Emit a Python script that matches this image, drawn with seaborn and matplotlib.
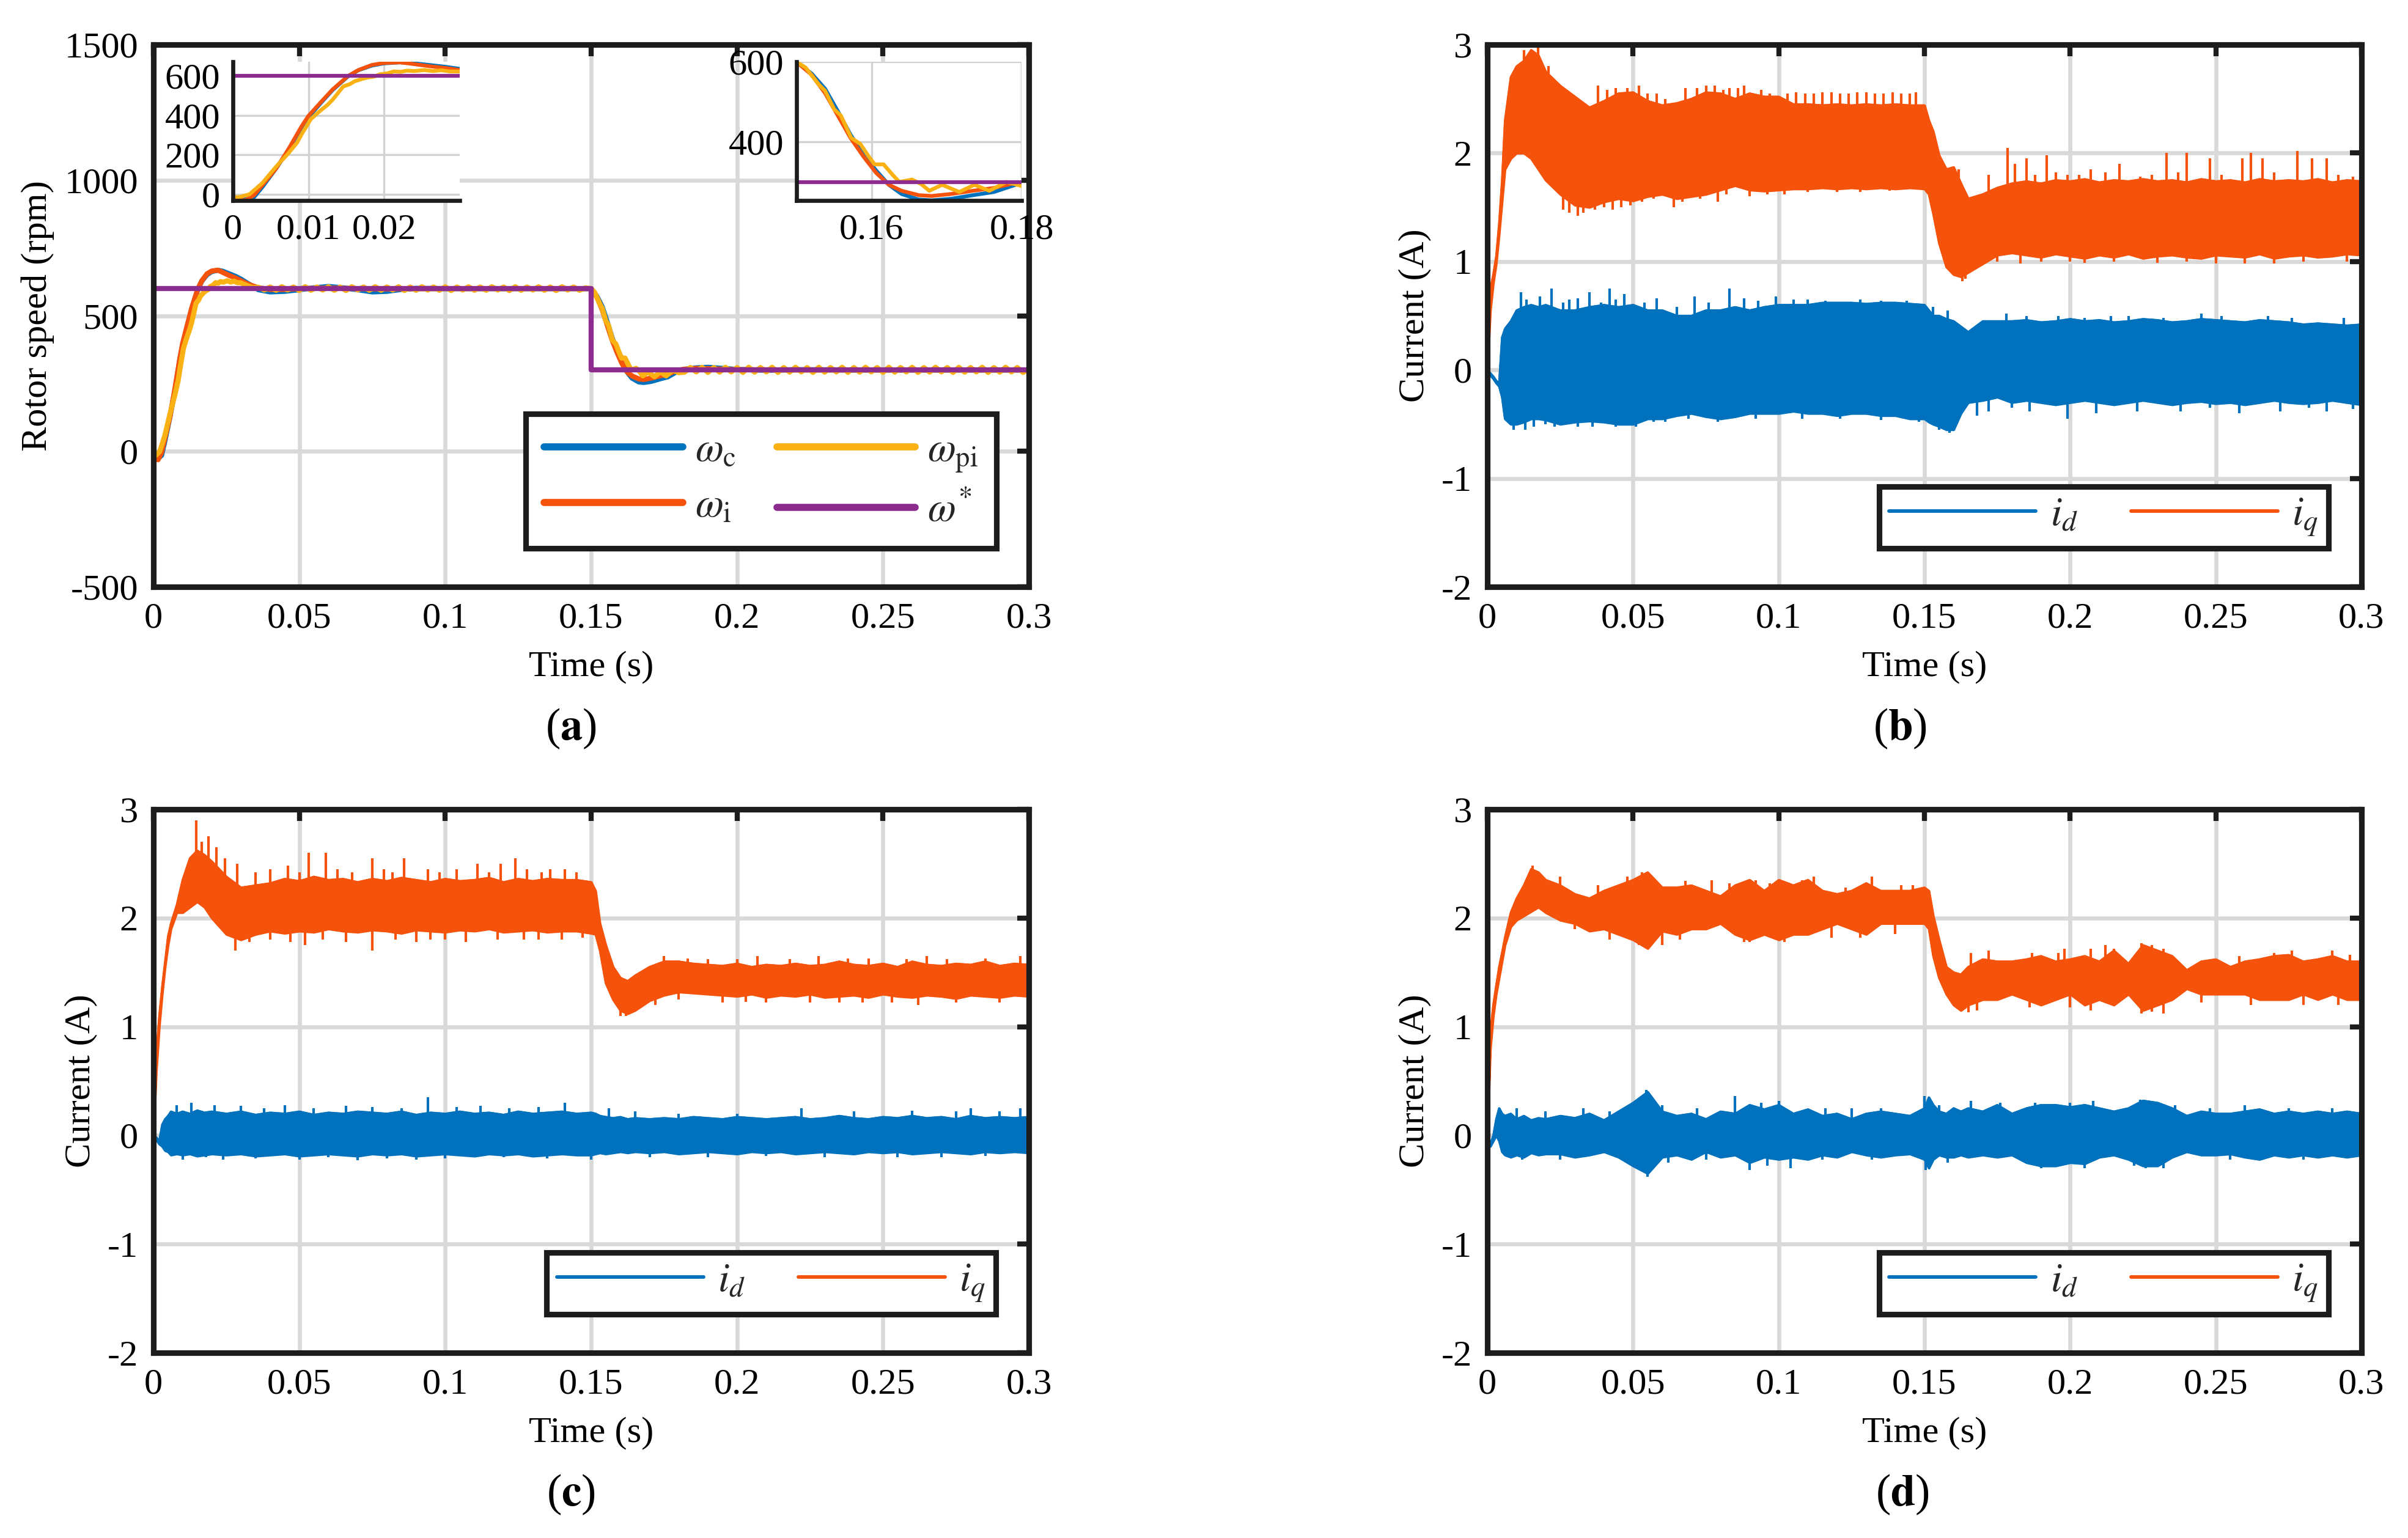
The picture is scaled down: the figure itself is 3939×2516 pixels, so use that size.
import numpy as np
import matplotlib
matplotlib.use("Agg")
import matplotlib.pyplot as plt
from matplotlib.lines import Line2D
import seaborn as sns

sns.set_theme(style="white")
plt.rcParams["font.family"] = ["Liberation Serif", "DejaVu Serif"]
plt.rcParams["mathtext.fontset"] = "stix"
plt.rcParams["axes.unicode_minus"] = False

C_BLUE = "#0072BD"
C_ORANGE = "#F5520C"
C_YELLOW = "#F9B113"
C_PURPLE = "#8B2C8E"
C_AX = "#1c1c1c"
C_GRID = "#d9d9d9"
FS = 14.5

# ---------------- (a) rotor speed data (rpm) ----------------
wc_t = [0, 0.0008, 0.0016, 0.0028, 0.0039, 0.0057, 0.0074, 0.0091, 0.0100, 0.0117, 0.0132,
        0.0152, 0.0166, 0.0184, 0.0200, 0.0221, 0.0238, 0.0259, 0.0282, 0.0300, 0.033, 0.036,
        0.040, 0.045, 0.050, 0.055, 0.060, 0.065, 0.070, 0.075, 0.080, 0.085, 0.090, 0.10,
        0.12, 0.14, 0.150, 0.152, 0.1538, 0.1555, 0.1572, 0.1589, 0.1606, 0.1623, 0.1640,
        0.1663, 0.1680, 0.1706, 0.1735, 0.1763, 0.1792, 0.182, 0.186, 0.19, 0.195, 0.2,
        0.21, 0.22, 0.24, 0.26, 0.28, 0.3]
wc_v = [-20, -25, -26, -15, 36, 129, 225, 340, 390, 465, 528, 596, 628, 652, 663, 668, 664,
        655, 645, 635, 615, 596, 588, 590, 596, 603, 608, 603, 596, 588, 590, 597, 601, 600,
        600, 600, 600, 571, 533, 477, 418, 369, 329, 293, 270, 256, 254, 258, 267, 275, 293,
        302, 308, 310, 306, 302, 299, 301, 300, 300, 300, 300]

wi_t = [0, 0.0008, 0.0016, 0.0028, 0.0039, 0.0057, 0.0074, 0.0091, 0.0100, 0.0117, 0.0132,
        0.0152, 0.0166, 0.0184, 0.0200, 0.0221, 0.0238, 0.0259, 0.0282, 0.0300, 0.033, 0.036,
        0.040, 0.045, 0.050, 0.06, 0.07, 0.08, 0.1, 0.12, 0.14, 0.150, 0.152, 0.1538, 0.1555,
        0.1572, 0.1589, 0.1606, 0.1623, 0.1640, 0.1663, 0.1680, 0.1706, 0.1735, 0.1763,
        0.1792, 0.182, 0.186, 0.19, 0.2, 0.22, 0.26, 0.3]
wi_v = [-20, -26, -31, -5, 46, 129, 232, 345, 397, 469, 531, 598, 629, 655, 665, 668, 660,
        649, 639, 629, 614, 603, 597, 597, 600, 602, 600, 599, 600, 600, 600, 600, 568, 522,
        466, 410, 364, 323, 293, 278, 267, 265, 270, 278, 285, 298, 303, 306, 305, 301, 300,
        300, 300]

wpi_early_t = [0, 0.0008, 0.0022, 0.0039, 0.0057, 0.0074, 0.0085, 0.0091, 0.0103, 0.0114,
               0.0125, 0.0132, 0.0146, 0.0155, 0.0161, 0.0170, 0.0178, 0.0187, 0.0195, 0.0204,
               0.0213, 0.0222, 0.0230, 0.0240, 0.0253, 0.0265, 0.0276, 0.0287, 0.0298, 0.032,
               0.034]
wpi_early_v = [-15, -15, 0, 57, 139, 210, 262, 304, 380, 418, 452, 479, 546, 558, 572, 583,
               591, 596, 608, 612, 622, 620, 626, 624, 629, 624, 628, 622, 622, 612, 604]
# ripple 0.036 ... 0.148 s (2 ms samples)
wpi_mid_v = [605, 595, 606, 594, 607, 595, 606, 593, 607, 594,
             606, 595, 607, 594, 606, 593, 607, 595, 606, 594,
             607, 594, 606, 595, 607, 593, 606, 594, 607, 595,
             606, 594, 607, 593, 606, 595, 607, 594, 606, 594,
             607, 595, 606, 593, 607, 594, 606, 595, 607, 594,
             606, 593, 607, 595, 606, 594, 603]
wpi_drop_t = [0.150, 0.1512, 0.1530, 0.1538, 0.1550, 0.1559, 0.1573, 0.1585, 0.1596, 0.1604,
              0.1616, 0.1628, 0.1637, 0.1654, 0.1666, 0.1677, 0.1694, 0.1717, 0.1737, 0.1757,
              0.1780, 0.1800]
wpi_drop_v = [600, 586, 543, 528, 482, 466, 410, 395, 364, 344, 344, 318, 300, 306, 295, 278,
              293, 275, 293, 278, 300, 290]
# ripple 0.182 ... 0.300 s (2 ms samples)
wpi_tail_v = [292, 309, 293, 310, 291, 309, 292, 310, 293, 309,
              291, 310, 292, 309, 293, 310, 291, 309, 292, 310,
              293, 309, 291, 310, 292, 309, 293, 310, 291, 309,
              292, 310, 293, 309, 291, 310, 292, 309, 293, 310,
              291, 309, 292, 310, 293, 309, 291, 310, 292, 309,
              293, 310, 291, 309, 292, 310, 293, 309, 291, 304]

wref_t = [0, 0.15, 0.15, 0.3]
wref_v = [600, 600, 300, 300]

# ---------------- current envelopes (A), shared time grid ----------------
t_env = [0, 0.001, 0.002, 0.003, 0.004, 0.005, 0.006, 0.008, 0.010, 0.0125, 0.015, 0.0175, 0.020,
         0.025, 0.030, 0.035, 0.040, 0.045, 0.050, 0.055, 0.060, 0.065, 0.070, 0.075, 0.080,
         0.085, 0.090, 0.095, 0.100, 0.105, 0.110, 0.115, 0.120, 0.125, 0.130, 0.135, 0.140, 0.145,
         0.150, 0.1515, 0.153, 0.155, 0.1575, 0.160, 0.1625, 0.165,
         0.170, 0.175, 0.180, 0.185, 0.190, 0.195, 0.200, 0.205, 0.210, 0.215, 0.220, 0.225,
         0.230, 0.235, 0.240, 0.245, 0.250, 0.255, 0.260, 0.265, 0.270, 0.275, 0.280, 0.285,
         0.290, 0.295, 0.300]

# (b)
b_iq_hi = [0, 0.75, 0.88, 1.05, 1.35, 1.75, 2.30, 2.70, 2.80, 2.85, 2.95, 2.90, 2.75,
           2.62, 2.52, 2.42, 2.48, 2.55, 2.56, 2.48, 2.44, 2.46, 2.50, 2.56, 2.55, 2.50, 2.55,
           2.52, 2.52, 2.45, 2.45, 2.44, 2.45, 2.44, 2.45, 2.44, 2.45, 2.44,
           2.44, 2.30, 2.20, 1.98, 1.85, 1.87, 1.72, 1.58,
           1.62, 1.68, 1.72, 1.74, 1.72, 1.75, 1.74, 1.76, 1.73, 1.75, 1.74, 1.76, 1.74, 1.75,
           1.73, 1.76, 1.74, 1.75, 1.73, 1.76, 1.74, 1.75, 1.74, 1.76, 1.73, 1.75, 1.74]
b_iq_lo = [0, 0.55, 0.80, 0.98, 1.25, 1.55, 1.85, 1.95, 2.00, 2.00, 1.95, 1.85, 1.75,
           1.62, 1.52, 1.50, 1.55, 1.58, 1.56, 1.60, 1.62, 1.58, 1.60, 1.62, 1.66, 1.70, 1.66,
           1.65, 1.66, 1.67, 1.67, 1.68, 1.67, 1.68, 1.67, 1.68, 1.67, 1.68,
           1.67, 1.62, 1.44, 1.17, 0.95, 0.88, 0.86, 0.90,
           0.98, 1.06, 1.08, 1.06, 1.04, 1.07, 1.05, 1.03, 1.06, 1.04, 1.07, 1.03, 1.05, 1.06,
           1.04, 1.03, 1.06, 1.05, 1.04, 1.07, 1.03, 1.05, 1.06, 1.04, 1.05, 1.07, 1.06]
b_id_hi = [0, -0.03, -0.06, -0.10, -0.12, 0.30, 0.38, 0.45, 0.55, 0.58, 0.60, 0.58, 0.60,
           0.55, 0.55, 0.58, 0.60, 0.58, 0.60, 0.55, 0.55, 0.50, 0.50, 0.55, 0.55, 0.58, 0.55,
           0.58, 0.60, 0.60, 0.60, 0.62, 0.62, 0.62, 0.61, 0.62, 0.62, 0.61,
           0.60, 0.55, 0.50, 0.50, 0.47, 0.45, 0.40, 0.35,
           0.45, 0.45, 0.45, 0.46, 0.44, 0.45, 0.47, 0.45, 0.46, 0.44, 0.45, 0.47, 0.46, 0.44,
           0.45, 0.47, 0.46, 0.45, 0.44, 0.46, 0.45, 0.44, 0.42, 0.43, 0.42, 0.41, 0.42]
b_id_lo = [0, -0.05, -0.08, -0.12, -0.15, -0.25, -0.45, -0.50, -0.50, -0.48, -0.45, -0.45, -0.46,
           -0.50, -0.48, -0.47, -0.48, -0.50, -0.50, -0.45, -0.45, -0.42, -0.40, -0.43, -0.45,
           -0.43, -0.40, -0.40, -0.40, -0.38, -0.40, -0.40, -0.42, -0.40, -0.40, -0.42, -0.42, -0.45,
           -0.45, -0.48, -0.50, -0.52, -0.55, -0.55, -0.40, -0.30,
           -0.28, -0.25, -0.30, -0.28, -0.30, -0.32, -0.30, -0.28, -0.30, -0.32, -0.30, -0.28,
           -0.30, -0.32, -0.30, -0.29, -0.31, -0.30, -0.32, -0.30, -0.28, -0.30, -0.31, -0.30,
           -0.28, -0.30, -0.32]
# spikes: (time, from, to)
b_iq_spikes = [(0.0125, 2.4, 2.95), (0.0165, 2.4, 2.85), (0.0174, 2.4, 3.0), (0.021, 2.3, 2.8),
               (0.024, 2.2, 2.6), (0.027, 2.2, 2.55), (0.030, 2.2, 2.52), (0.034, 2.2, 2.45),
               (0.038, 2.2, 2.62), (0.041, 2.2, 2.58), (0.044, 2.2, 2.6), (0.048, 2.2, 2.6),
               (0.052, 2.2, 2.62), (0.055, 2.2, 2.55), (0.058, 2.2, 2.55), (0.061, 2.2, 2.5),
               (0.068, 2.2, 2.6), (0.072, 2.2, 2.6), (0.075, 2.2, 2.62), (0.078, 2.2, 2.62),
               (0.081, 2.2, 2.58), (0.083, 2.2, 2.6), (0.086, 2.2, 2.6), (0.088, 2.2, 2.62),
               (0.091, 2.2, 2.55), (0.094, 2.2, 2.58), (0.097, 2.2, 2.55), (0.103, 2.2, 2.55),
               (0.106, 2.2, 2.56), (0.109, 2.2, 2.55), (0.112, 2.2, 2.55), (0.115, 2.2, 2.56),
               (0.118, 2.2, 2.56), (0.121, 2.2, 2.55), (0.124, 2.2, 2.55), (0.127, 2.2, 2.56),
               (0.130, 2.2, 2.56), (0.133, 2.2, 2.55), (0.136, 2.2, 2.55), (0.139, 2.2, 2.56),
               (0.142, 2.2, 2.55), (0.145, 2.2, 2.55), (0.147, 2.2, 2.56),
               (0.1617, 1.4, 1.85), (0.172, 1.4, 1.8), (0.1786, 1.4, 2.05), (0.181, 1.4, 1.9),
               (0.185, 1.4, 1.95), (0.188, 1.4, 1.8), (0.192, 1.4, 1.98), (0.195, 1.4, 1.82),
               (0.199, 1.4, 1.8), (0.203, 1.4, 1.8), (0.207, 1.4, 1.85), (0.212, 1.4, 1.82),
               (0.217, 1.4, 1.9), (0.224, 1.4, 1.78), (0.228, 1.4, 1.8), (0.233, 1.4, 2.0),
               (0.237, 1.4, 1.82), (0.240, 1.4, 2.0), (0.248, 1.4, 1.95), (0.252, 1.4, 1.8),
               (0.259, 1.4, 1.95), (0.262, 1.4, 2.0), (0.266, 1.4, 1.95), (0.270, 1.4, 1.82),
               (0.278, 1.4, 2.02), (0.283, 1.4, 1.95), (0.288, 1.4, 1.95), (0.292, 1.4, 1.8),
               (0.297, 1.4, 1.78),
               (0.026, 1.48, 1.9), (0.028, 1.45, 1.9), (0.031, 1.42, 1.9), (0.033, 1.45, 1.9),
               (0.037, 1.48, 1.9), (0.040, 1.5, 1.9), (0.043, 1.48, 1.9), (0.046, 1.5, 1.9),
               (0.049, 1.52, 1.9), (0.053, 1.55, 1.9), (0.057, 1.58, 1.9), (0.064, 1.5, 1.9),
               (0.067, 1.55, 1.9), (0.073, 1.58, 1.9), (0.079, 1.55, 1.9), (0.082, 1.62, 1.9),
               (0.090, 1.6, 1.9), (0.096, 1.62, 1.9), (0.102, 1.62, 1.9), (0.110, 1.64, 1.9),
               (0.120, 1.64, 1.9), (0.128, 1.64, 1.9), (0.138, 1.65, 1.9),
               (0.163, 0.82, 1.2), (0.164, 0.84, 1.2), (0.175, 1.0, 1.3), (0.183, 0.98, 1.3),
               (0.190, 1.0, 1.3), (0.200, 1.0, 1.3), (0.205, 0.99, 1.3), (0.215, 1.0, 1.3),
               (0.230, 0.99, 1.3), (0.240, 1.0, 1.3), (0.250, 0.98, 1.3), (0.260, 0.98, 1.3),
               (0.270, 0.98, 1.3), (0.280, 1.0, 1.3), (0.295, 1.0, 1.3)]
b_id_spikes = [(0.0115, 0, 0.72), (0.0135, 0, 0.65), (0.018, 0, 0.68), (0.022, 0, 0.75),
               (0.026, 0, 0.62), (0.028, 0, 0.65), (0.031, 0, 0.66), (0.035, 0, 0.72),
               (0.039, 0, 0.62), (0.042, 0, 0.75), (0.044, 0, 0.65), (0.047, 0, 0.70),
               (0.054, 0, 0.62), (0.058, 0, 0.66), (0.065, 0, 0.58), (0.071, 0, 0.68),
               (0.076, 0, 0.62), (0.083, 0, 0.75), (0.088, 0, 0.66), (0.093, 0, 0.64),
               (0.099, 0, 0.68), (0.105, 0, 0.65), (0.110, 0, 0.65), (0.116, 0, 0.64),
               (0.128, 0, 0.65), (0.135, 0, 0.64), (0.144, 0, 0.64), (0.153, 0, 0.58),
               (0.158, 0, 0.55), (0.178, 0, 0.52), (0.185, 0, 0.50), (0.196, 0, 0.50),
               (0.205, 0, 0.48), (0.214, 0, 0.50), (0.220, 0, 0.50), (0.232, 0, 0.48),
               (0.245, 0, 0.52), (0.252, 0, 0.50), (0.268, 0, 0.50), (0.276, 0, 0.48),
               (0.294, 0, 0.48),
               (0.009, -0.55, 0), (0.013, -0.55, 0), (0.016, -0.52, 0), (0.020, -0.50, 0),
               (0.023, -0.52, 0), (0.031, -0.52, 0), (0.036, -0.52, 0), (0.044, -0.52, 0),
               (0.051, -0.52, 0), (0.057, -0.48, 0), (0.061, -0.48, 0), (0.069, -0.45, 0),
               (0.079, -0.48, 0), (0.092, -0.45, 0), (0.108, -0.45, 0), (0.121, -0.45, 0),
               (0.135, -0.46, 0), (0.148, -0.48, 0), (0.155, -0.55, 0), (0.1585, -0.58, 0),
               (0.168, -0.42, 0), (0.172, -0.38, 0), (0.180, -0.35, 0), (0.186, -0.38, 0),
               (0.199, -0.45, 0), (0.209, -0.40, 0), (0.223, -0.38, 0), (0.238, -0.38, 0),
               (0.248, -0.35, 0), (0.258, -0.40, 0), (0.272, -0.38, 0), (0.282, -0.35, 0),
               (0.288, -0.38, 0), (0.297, -0.36, 0)]

# (c)
c_iq_hi = [0, 0.75, 1.10, 1.37, 1.60, 1.83, 1.95, 2.12, 2.35, 2.55, 2.62, 2.58, 2.52,
           2.38, 2.28, 2.30, 2.32, 2.36, 2.34, 2.38, 2.35, 2.36, 2.33, 2.36, 2.34, 2.37, 2.35,
           2.33, 2.36, 2.34, 2.35, 2.37, 2.33, 2.36, 2.34, 2.36, 2.35, 2.35,
           2.33, 2.25, 1.95, 1.75, 1.55, 1.45, 1.42, 1.47,
           1.55, 1.60, 1.60, 1.58, 1.57, 1.56, 1.58, 1.55, 1.57, 1.56, 1.58, 1.56, 1.57, 1.60,
           1.57, 1.56, 1.58, 1.55, 1.60, 1.57, 1.56, 1.58, 1.57, 1.60, 1.56, 1.58, 1.57]
c_iq_lo = [0, 0.60, 1.00, 1.30, 1.55, 1.75, 1.90, 2.05, 2.05, 2.10, 2.15, 2.10, 2.00,
           1.85, 1.80, 1.85, 1.88, 1.86, 1.88, 1.87, 1.90, 1.88, 1.87, 1.89, 1.88, 1.86, 1.89,
           1.88, 1.87, 1.89, 1.88, 1.90, 1.87, 1.88, 1.89, 1.87, 1.88, 1.88,
           1.86, 1.85, 1.70, 1.40, 1.25, 1.15, 1.12, 1.15,
           1.24, 1.29, 1.32, 1.31, 1.30, 1.29, 1.28, 1.30, 1.27, 1.29, 1.28, 1.30, 1.27, 1.28,
           1.29, 1.27, 1.30, 1.28, 1.27, 1.29, 1.28, 1.26, 1.29, 1.28, 1.27, 1.29, 1.28]
c_id_hi = [0, -0.02, -0.05, 0.10, 0.15, 0.18, 0.22, 0.20, 0.22, 0.20, 0.23, 0.21, 0.22,
           0.20, 0.22, 0.19, 0.21, 0.20, 0.22, 0.19, 0.21, 0.20, 0.22, 0.21, 0.20, 0.22, 0.19,
           0.21, 0.20, 0.22, 0.20, 0.21, 0.19, 0.22, 0.20, 0.21, 0.22, 0.20,
           0.21, 0.20, 0.18, 0.17, 0.16, 0.17, 0.15, 0.16,
           0.15, 0.16, 0.15, 0.17, 0.16, 0.15, 0.17, 0.16, 0.15, 0.16, 0.17, 0.15, 0.16, 0.18,
           0.16, 0.15, 0.17, 0.16, 0.18, 0.16, 0.17, 0.15, 0.18, 0.16, 0.17, 0.16, 0.17]
c_id_lo = [0, -0.04, -0.08, -0.10, -0.14, -0.15, -0.18, -0.17, -0.18, -0.17, -0.19, -0.18, -0.17,
           -0.18, -0.17, -0.19, -0.18, -0.17, -0.19, -0.18, -0.17, -0.18, -0.19, -0.17, -0.18,
           -0.17, -0.19, -0.18, -0.17, -0.18, -0.19, -0.17, -0.18, -0.17, -0.19, -0.18, -0.17, -0.18,
           -0.18, -0.17, -0.16, -0.17, -0.16, -0.15, -0.16, -0.15,
           -0.16, -0.15, -0.17, -0.16, -0.15, -0.16, -0.17, -0.15, -0.16, -0.15, -0.17, -0.16,
           -0.15, -0.16, -0.17, -0.15, -0.16, -0.15, -0.17, -0.16, -0.15, -0.16, -0.17, -0.15,
           -0.16, -0.15, -0.16]
c_iq_spikes = [(0.0146, 2.3, 2.9), (0.0165, 2.3, 2.7), (0.0188, 2.3, 2.75), (0.0215, 2.2, 2.65),
               (0.0245, 2.1, 2.55), (0.0287, 2.0, 2.5), (0.035, 2.1, 2.42), (0.040, 2.1, 2.45),
               (0.046, 2.1, 2.48), (0.050, 2.1, 2.42), (0.0533, 2.1, 2.6), (0.059, 2.1, 2.6),
               (0.063, 2.1, 2.45), (0.068, 2.1, 2.42), (0.075, 2.1, 2.55), (0.079, 2.1, 2.45),
               (0.082, 2.1, 2.42), (0.086, 2.1, 2.55), (0.094, 2.1, 2.45), (0.098, 2.1, 2.42),
               (0.104, 2.1, 2.45), (0.111, 2.1, 2.5), (0.115, 2.1, 2.42), (0.119, 2.1, 2.5),
               (0.124, 2.1, 2.55), (0.128, 2.1, 2.45), (0.133, 2.1, 2.42), (0.136, 2.1, 2.45),
               (0.141, 2.1, 2.45), (0.145, 2.1, 2.42),
               (0.175, 1.4, 1.65), (0.183, 1.4, 1.63), (0.190, 1.4, 1.62), (0.200, 1.4, 1.62),
               (0.207, 1.4, 1.65), (0.218, 1.4, 1.62), (0.228, 1.4, 1.65), (0.238, 1.4, 1.63),
               (0.245, 1.4, 1.63), (0.258, 1.4, 1.62), (0.265, 1.4, 1.65), (0.272, 1.4, 1.62),
               (0.285, 1.4, 1.63), (0.297, 1.4, 1.65),
               (0.028, 1.7, 2.0), (0.033, 1.78, 2.0), (0.040, 1.8, 2.0), (0.047, 1.78, 2.0),
               (0.052, 1.75, 2.0), (0.058, 1.8, 2.0), (0.066, 1.78, 2.0), (0.075, 1.7, 2.0),
               (0.083, 1.8, 2.0), (0.090, 1.78, 2.0), (0.095, 1.8, 2.0), (0.100, 1.8, 2.0),
               (0.107, 1.78, 2.0), (0.118, 1.8, 2.0), (0.127, 1.8, 2.0), (0.132, 1.8, 2.0),
               (0.140, 1.8, 2.0), (0.147, 1.82, 2.0),
               (0.160, 1.1, 1.3), (0.162, 1.1, 1.3), (0.172, 1.2, 1.4), (0.180, 1.25, 1.4),
               (0.195, 1.22, 1.4), (0.203, 1.23, 1.4), (0.210, 1.22, 1.4), (0.225, 1.22, 1.4),
               (0.235, 1.22, 1.4), (0.243, 1.22, 1.4), (0.253, 1.22, 1.4), (0.262, 1.2, 1.4),
               (0.275, 1.22, 1.4), (0.290, 1.22, 1.4)]
c_id_spikes = [(0.008, 0, 0.28), (0.013, 0, 0.30), (0.021, 0, 0.28), (0.030, 0, 0.27),
               (0.038, 0, 0.25), (0.045, 0, 0.28), (0.055, 0, 0.25), (0.066, 0, 0.27),
               (0.075, 0, 0.26), (0.085, 0, 0.25), (0.094, 0, 0.35), (0.104, 0, 0.26),
               (0.112, 0, 0.27), (0.122, 0, 0.25), (0.132, 0, 0.26), (0.141, 0, 0.30),
               (0.156, 0, 0.25), (0.165, 0, 0.22), (0.180, 0, 0.20), (0.200, 0, 0.20),
               (0.222, 0, 0.25), (0.240, 0, 0.22), (0.260, 0, 0.23), (0.275, 0, 0.22),
               (0.280, 0, 0.25), (0.290, 0, 0.22), (0.297, 0, 0.25),
               (0.010, -0.22, 0), (0.018, -0.20, 0), (0.024, -0.22, 0), (0.035, -0.21, 0),
               (0.050, -0.22, 0), (0.060, -0.20, 0), (0.070, -0.23, 0), (0.080, -0.21, 0),
               (0.090, -0.22, 0), (0.100, -0.21, 0), (0.120, -0.20, 0), (0.135, -0.21, 0),
               (0.150, -0.22, 0), (0.170, -0.20, 0), (0.190, -0.20, 0), (0.210, -0.19, 0),
               (0.230, -0.20, 0), (0.255, -0.20, 0), (0.270, -0.20, 0), (0.285, -0.19, 0)]

# (d)
d_iq_hi = [0, 0.95, 1.20, 1.38, 1.55, 1.68, 1.82, 2.05, 2.18, 2.30, 2.45, 2.42, 2.35,
           2.30, 2.22, 2.18, 2.25, 2.30, 2.35, 2.42, 2.28, 2.28, 2.30, 2.25, 2.20, 2.30, 2.35,
           2.25, 2.35, 2.30, 2.35, 2.25, 2.22, 2.25, 2.32, 2.25, 2.25, 2.25,
           2.28, 2.25, 2.02, 1.80, 1.55, 1.50, 1.48, 1.55,
           1.62, 1.60, 1.60, 1.62, 1.65, 1.60, 1.62, 1.65, 1.60, 1.70, 1.58, 1.75, 1.70, 1.65,
           1.52, 1.60, 1.62, 1.55, 1.60, 1.62, 1.65, 1.66, 1.60, 1.62, 1.65, 1.60, 1.60]
d_iq_lo = [0, 0.80, 1.10, 1.30, 1.45, 1.60, 1.75, 1.92, 1.98, 2.02, 2.06, 2.10, 2.05,
           1.98, 1.95, 1.88, 1.90, 1.85, 1.80, 1.72, 1.88, 1.85, 1.90, 1.90, 1.95, 1.85, 1.80,
           1.85, 1.80, 1.85, 1.85, 1.90, 1.95, 1.90, 1.85, 1.95, 1.95, 1.95,
           1.95, 1.90, 1.65, 1.45, 1.30, 1.20, 1.15, 1.20,
           1.25, 1.25, 1.30, 1.25, 1.20, 1.25, 1.30, 1.20, 1.25, 1.20, 1.30, 1.15, 1.20, 1.25,
           1.35, 1.30, 1.30, 1.30, 1.30, 1.25, 1.25, 1.25, 1.30, 1.25, 1.30, 1.25, 1.25]
d_id_hi = [0, -0.08, 0.0, 0.15, 0.25, 0.20, 0.18, 0.20, 0.15, 0.18, 0.14, 0.16, 0.15,
           0.18, 0.16, 0.20, 0.14, 0.22, 0.30, 0.40, 0.22, 0.18, 0.20, 0.15, 0.22, 0.20, 0.28,
           0.24, 0.28, 0.20, 0.24, 0.18, 0.20, 0.15, 0.20, 0.22, 0.20, 0.18,
           0.25, 0.35, 0.28, 0.22, 0.20, 0.25, 0.22, 0.25,
           0.22, 0.28, 0.20, 0.25, 0.28, 0.28, 0.26, 0.28, 0.25, 0.22, 0.25, 0.32, 0.30, 0.25,
           0.18, 0.22, 0.20, 0.20, 0.22, 0.24, 0.20, 0.22, 0.20, 0.22, 0.20, 0.22, 0.20]
d_id_lo = [0, -0.10, -0.05, 0.0, -0.05, -0.15, -0.18, -0.20, -0.18, -0.20, -0.16, -0.18, -0.17,
           -0.17, -0.20, -0.18, -0.15, -0.20, -0.28, -0.35, -0.20, -0.18, -0.22, -0.15, -0.20,
           -0.18, -0.25, -0.20, -0.22, -0.20, -0.22, -0.18, -0.20, -0.15, -0.18, -0.20, -0.18, -0.17,
           -0.22, -0.30, -0.22, -0.18, -0.20, -0.20, -0.18, -0.20,
           -0.18, -0.20, -0.18, -0.25, -0.28, -0.28, -0.25, -0.26, -0.20, -0.18, -0.22, -0.28,
           -0.28, -0.20, -0.15, -0.18, -0.18, -0.17, -0.20, -0.22, -0.18, -0.20, -0.18, -0.20,
           -0.18, -0.20, -0.18]
d_iq_spikes = [(0.0155, 2.2, 2.48), (0.025, 2.0, 2.38), (0.038, 2.0, 2.3), (0.048, 2.0, 2.38),
               (0.053, 2.0, 2.42), (0.054, 2.0, 2.40), (0.068, 2.0, 2.34), (0.077, 2.0, 2.35),
               (0.083, 2.0, 2.32), (0.092, 2.0, 2.35), (0.097, 2.0, 2.32), (0.100, 2.0, 2.35),
               (0.108, 2.0, 2.35), (0.112, 2.0, 2.38), (0.123, 2.0, 2.28), (0.132, 2.0, 2.38),
               (0.142, 2.0, 2.30), (0.146, 2.0, 2.30),
               (0.166, 1.4, 1.68), (0.172, 1.4, 1.70), (0.187, 1.4, 1.68), (0.196, 1.4, 1.68),
               (0.198, 1.4, 1.72), (0.207, 1.4, 1.72), (0.212, 1.4, 1.75), (0.215, 1.4, 1.72),
               (0.2245, 1.4, 1.77), (0.228, 1.4, 1.75), (0.232, 1.4, 1.72), (0.258, 1.4, 1.65),
               (0.270, 1.4, 1.68), (0.276, 1.4, 1.70), (0.290, 1.4, 1.70), (0.296, 1.4, 1.66),
               (0.030, 1.9, 2.1), (0.042, 1.8, 2.1), (0.052, 1.75, 2.1), (0.055, 1.72, 2.0),
               (0.060, 1.75, 2.0), (0.066, 1.8, 2.1), (0.088, 1.78, 2.1), (0.090, 1.78, 2.0),
               (0.102, 1.78, 2.1), (0.118, 1.82, 2.1), (0.128, 1.82, 2.1), (0.140, 1.85, 2.1),
               (0.165, 1.13, 1.4), (0.168, 1.15, 1.4), (0.186, 1.18, 1.4), (0.200, 1.18, 1.4),
               (0.207, 1.15, 1.4), (0.2245, 1.12, 1.4), (0.228, 1.14, 1.4), (0.232, 1.12, 1.4),
               (0.245, 1.22, 1.4), (0.262, 1.20, 1.4), (0.280, 1.20, 1.4), (0.292, 1.20, 1.4)]
d_id_spikes = [(0.010, 0, 0.25), (0.020, 0, 0.22), (0.033, 0, 0.25), (0.042, 0, 0.22),
               (0.0545, 0, 0.42), (0.060, 0, 0.28), (0.072, 0, 0.25), (0.085, 0, 0.36),
               (0.094, 0, 0.30), (0.100, 0, 0.32), (0.116, 0, 0.25), (0.125, 0, 0.25),
               (0.135, 0, 0.25), (0.150, 0, 0.36), (0.155, 0, 0.28), (0.166, 0, 0.32),
               (0.176, 0, 0.30), (0.188, 0, 0.30), (0.200, 0, 0.30), (0.208, 0, 0.32),
               (0.224, 0, 0.33), (0.236, 0, 0.28), (0.248, 0, 0.25), (0.260, 0, 0.28),
               (0.275, 0, 0.25), (0.290, 0, 0.25),
               (0.012, -0.22, 0), (0.025, -0.22, 0), (0.048, -0.25, 0), (0.055, -0.38, 0),
               (0.062, -0.25, 0), (0.075, -0.22, 0), (0.090, -0.32, 0), (0.096, -0.28, 0),
               (0.104, -0.30, 0), (0.115, -0.22, 0), (0.132, -0.22, 0), (0.1505, -0.32, 0),
               (0.158, -0.25, 0), (0.190, -0.30, 0), (0.196, -0.28, 0), (0.205, -0.30, 0),
               (0.222, -0.28, 0), (0.226, -0.30, 0), (0.232, -0.30, 0), (0.255, -0.22, 0),
               (0.280, -0.22, 0)]

x_ticks = [0, 0.05, 0.1, 0.15, 0.2, 0.25, 0.3]
x_ticklabels = ["0", "0.05", "0.1", "0.15", "0.2", "0.25", "0.3"]


def style_main(ax, yticks):
    ax.set_xlim(0, 0.3)
    ax.set_ylim(yticks[0], yticks[-1])
    ax.set_xticks(x_ticks)
    ax.set_xticklabels(x_ticklabels)
    ax.set_yticks(yticks)
    ax.set_yticklabels([str(v) for v in yticks])
    ax.grid(True, color=C_GRID, lw=1.6)
    ax.set_axisbelow(True)
    for s in ax.spines.values():
        s.set_visible(True)
        s.set_linewidth(2.2)
        s.set_color(C_AX)
    ax.tick_params(direction="in", length=4.5, width=2.0, top=True, right=True,
                   color=C_AX, labelcolor="black", labelsize=FS, pad=6)
    ax.set_xlabel("Time (s)", fontsize=FS, color="black", labelpad=6)


def style_inset(ax):
    ax.set_facecolor("white")
    ax.grid(True, color="#d2d2d2", lw=0.8)
    ax.set_axisbelow(True)
    ax.spines["top"].set_visible(False)
    ax.spines["right"].set_visible(False)
    for k in ["left", "bottom"]:
        ax.spines[k].set_visible(True)
        ax.spines[k].set_linewidth(1.6)
        ax.spines[k].set_color(C_AX)
    ax.tick_params(direction="in", length=3, width=1.4, color=C_AX, labelcolor="black",
                   labelsize=FS, pad=5)


def speed_lines(ax, lw):
    pi_t = (wpi_early_t + list(np.linspace(0.036, 0.148, len(wpi_mid_v))) + wpi_drop_t
            + list(np.linspace(0.182, 0.300, len(wpi_tail_v))))
    pi_v = wpi_early_v + wpi_mid_v + wpi_drop_v + wpi_tail_v
    for t, v, c in [(wc_t, wc_v, C_BLUE), (wi_t, wi_v, C_ORANGE), (pi_t, pi_v, C_YELLOW),
                    (wref_t, wref_v, C_PURPLE)]:
        sns.lineplot(x=t, y=v, ax=ax, color=c, lw=lw, estimator=None, sort=False, legend=False)


def current_band(ax, lo, hi, spikes, color):
    ax.fill_between(t_env, lo, hi, color=color, lw=0.9, edgecolor=color)
    sns.lineplot(x=t_env, y=hi, ax=ax, color=color, lw=0.8, estimator=None, sort=False)
    sns.lineplot(x=t_env, y=lo, ax=ax, color=color, lw=0.8, estimator=None, sort=False)
    ax.vlines([s[0] for s in spikes], [s[1] for s in spikes], [s[2] for s in spikes],
              color=color, lw=1.0)


fig = plt.figure(figsize=(3939 / 300, 2516 / 300), dpi=300)
ax_a = fig.add_axes([0.0637, 0.6184, 0.3636, 0.3526])
ax_b = fig.add_axes([0.6177, 0.6184, 0.3630, 0.3526])
ax_c = fig.add_axes([0.0637, 0.1204, 0.3636, 0.3534])
ax_d = fig.add_axes([0.6177, 0.1204, 0.3630, 0.3534])

# (a)
speed_lines(ax_a, 2.0)
style_main(ax_a, [-500, 0, 500, 1000, 1500])
ax_a.set_ylabel("Rotor speed (rpm)", fontsize=FS, color="black", labelpad=4)
handles = [Line2D([], [], color=C_BLUE, lw=2.8), Line2D([], [], color=C_ORANGE, lw=2.8),
           Line2D([], [], color=C_YELLOW, lw=2.8), Line2D([], [], color=C_PURPLE, lw=2.8)]
labels = [r"$\omega_{\mathrm{c}}$", r"$\omega_{\mathrm{i}}$", r"$\omega_{\mathrm{pi}}$",
          r"$\omega^{*}$"]
leg = ax_a.legend(handles, labels, ncol=2, loc="lower right", borderaxespad=0,
                  bbox_to_anchor=(0.963, 0.071), fontsize=FS + 1.5, handlelength=3.4,
                  handletextpad=0.3, columnspacing=1.0, labelspacing=0.45, borderpad=0.45,
                  fancybox=False, framealpha=1, edgecolor=C_AX)
leg.get_frame().set_linewidth(2.2)

ins1 = ax_a.inset_axes([0.0908, 0.712, 0.259, 0.256])
speed_lines(ins1, 1.5)
style_inset(ins1)
ins1.set_xlim(0, 0.03)
ins1.set_ylim(-33, 670)
ins1.set_xticks([0, 0.01, 0.02])
ins1.set_xticklabels(["0", "0.01", "0.02"])
ins1.set_yticks([0, 200, 400, 600])
ins1.set_yticklabels(["0", "200", "400", "600"])

ins2 = ax_a.inset_axes([0.7346, 0.712, 0.257, 0.256])
speed_lines(ins2, 1.5)
style_inset(ins2)
ins2.set_xlim(0.15, 0.18)
ins2.set_ylim(253, 600)
ins2.set_xticks([0.16, 0.18])
ins2.set_xticklabels(["0.16", "0.18"])
ins2.set_yticks([400, 600])
ins2.set_yticklabels(["400", "600"])

# (b), (c), (d)
panels = [(ax_b, b_id_lo, b_id_hi, b_id_spikes, b_iq_lo, b_iq_hi, b_iq_spikes),
          (ax_c, c_id_lo, c_id_hi, c_id_spikes, c_iq_lo, c_iq_hi, c_iq_spikes),
          (ax_d, d_id_lo, d_id_hi, d_id_spikes, d_iq_lo, d_iq_hi, d_iq_spikes)]
for ax, idl, idh, ids, iql, iqh, iqs in panels:
    current_band(ax, idl, idh, ids, C_BLUE)
    current_band(ax, iql, iqh, iqs, C_ORANGE)
    style_main(ax, [-2, -1, 0, 1, 2, 3])
    ax.set_ylabel("Current (A)", fontsize=FS, color="black", labelpad=4)
    h = [Line2D([], [], color=C_BLUE, lw=1.4), Line2D([], [], color=C_ORANGE, lw=1.4)]
    lg = ax.legend(h, [r"$i_d$", r"$i_q$"], ncol=2, loc="lower right", borderaxespad=0,
                   bbox_to_anchor=(0.962, 0.071), fontsize=FS + 1.5, handlelength=3.6,
                   handletextpad=0.35, columnspacing=1.3, borderpad=0.25,
                   fancybox=False, framealpha=1, edgecolor=C_AX)
    lg.get_frame().set_linewidth(2.2)

for x, y, s in [(0.237, 0.526, "a"), (0.789, 0.526, "b"), (0.237, 0.028, "c"),
                (0.790, 0.028, "d")]:
    fig.text(x, y, "(" + r"$\mathbf{" + s + "}$" + ")", ha="center", va="center",
             fontsize=FS + 3, color="black")

fig.savefig("out.png", dpi=300)
